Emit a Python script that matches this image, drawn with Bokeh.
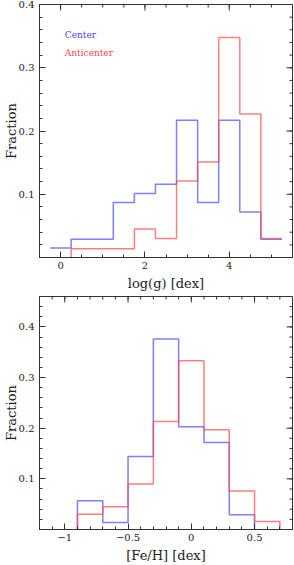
import math
from bokeh.plotting import figure
from bokeh.layouts import column
from bokeh.models import FixedTicker, Label, Range1d
from bokeh.embed import file_html
from bokeh.resources import INLINE

# ---- data: log(g) histograms (fractions) ----
logg_edges_center = [-0.25, 0.25, 0.75, 1.25, 1.75, 2.25, 2.75, 3.25, 3.75, 4.25, 4.75, 5.25]
logg_center = [0.015, 0.029, 0.029, 0.087, 0.101, 0.116, 0.217, 0.087, 0.217, 0.072, 0.029]
logg_edges_anti = [0.25, 0.75, 1.25, 1.75, 2.25, 2.75, 3.25, 3.75, 4.25, 4.75, 5.25]
logg_anti = [0.014, 0.014, 0.014, 0.045, 0.030, 0.121, 0.151, 0.348, 0.227, 0.030]

# ---- data: [Fe/H] histograms (fractions) ----
feh_edges_center = [-0.9, -0.7, -0.5, -0.3, -0.1, 0.1, 0.3, 0.5]
feh_center = [0.057, 0.014, 0.144, 0.376, 0.203, 0.172, 0.029]
feh_edges_anti = [-0.9, -0.7, -0.5, -0.3, -0.1, 0.1, 0.3, 0.5, 0.7]
feh_anti = [0.030, 0.045, 0.090, 0.213, 0.333, 0.197, 0.076, 0.016]

# ---- ticks ----
logg_ticks = [0, 2, 4]
logg_minor = [-0.5, 0, 0.5, 1, 1.5, 2, 2.5, 3, 3.5, 4, 4.5, 5, 5.5]
feh_ticks = [-1, -0.5, 0, 0.5]
feh_tick_labels = {-1: "\u22121", -0.5: "\u22120.5", 0: "0", 0.5: "0.5"}
feh_minor = [-1.2, -1.1, -1.0, -0.9, -0.8, -0.7, -0.6, -0.5, -0.4, -0.3, -0.2, -0.1,
             0.0, 0.1, 0.2, 0.3, 0.4, 0.5, 0.6, 0.7, 0.8]
frac_ticks = [0.1, 0.2, 0.3, 0.4]
frac_minor = [0.02, 0.04, 0.06, 0.08, 0.1, 0.12, 0.14, 0.16, 0.18, 0.2, 0.22, 0.24,
              0.26, 0.28, 0.3, 0.32, 0.34, 0.36, 0.38, 0.4, 0.42, 0.44, 0.46]

BLUE = "#4848ff"
RED = "#ff4848"
FONT = "DejaVu Serif"
FRAME = "#333333"
MAJ, MINR = 6, 3


def step_path(edges, vals, drop_left=True, drop_right=True):
    xs, ys = [], []
    if drop_left:
        xs.append(edges[0]); ys.append(0)
    for i, v in enumerate(vals):
        xs += [edges[i], edges[i + 1]]
        ys += [v, v]
    if drop_right:
        xs.append(edges[-1]); ys.append(0)
    return xs, ys


def tick_style(ax):
    ax.major_tick_in = MAJ
    ax.major_tick_out = 0
    ax.minor_tick_in = MINR
    ax.minor_tick_out = 0
    ax.axis_line_color = FRAME
    ax.major_tick_line_color = FRAME
    ax.minor_tick_line_color = FRAME
    ax.major_label_text_font = FONT
    ax.major_label_text_font_size = "10px"
    ax.major_label_text_color = "#222222"
    ax.axis_label_text_font = FONT
    ax.axis_label_text_font_size = "13px"
    ax.axis_label_text_font_style = "normal"
    ax.axis_label_text_color = "#222222"


def mirror_ticks(p, xr, yr, xt, xminor):
    # ticks on the top and right frame edges (inward)
    for ticks, ln in ((xt, MAJ), (xminor, MINR)):
        p.ray(x=ticks, y=[yr[1]] * len(ticks), length=ln, length_units="screen",
              angle=-math.pi / 2, line_color=FRAME, line_width=1)
    for ticks, ln in ((frac_ticks, MAJ), (frac_minor, MINR)):
        p.ray(x=[xr[1]] * len(ticks), y=ticks, length=ln, length_units="screen",
              angle=math.pi, line_color=FRAME, line_width=1)


def make_panel(height, xr, yr, xt, xminor, xlabel, top_border, xover=None):
    p = figure(width=294, height=height, x_range=Range1d(*xr), y_range=Range1d(*yr),
               output_backend="svg", toolbar_location=None,
               min_border_left=0, min_border_right=2, min_border_top=top_border,
               min_border_bottom=36)
    p.xgrid.visible = False
    p.ygrid.visible = False
    p.outline_line_color = FRAME
    p.background_fill_color = "white"
    p.border_fill_color = "white"

    p.xaxis.ticker = FixedTicker(ticks=xt, minor_ticks=xminor)
    p.yaxis.ticker = FixedTicker(ticks=frac_ticks, minor_ticks=frac_minor)
    if xover:
        p.xaxis.major_label_overrides = xover
    p.xaxis.axis_label = xlabel
    p.yaxis.axis_label = "Fraction"
    tick_style(p.xaxis[0])
    tick_style(p.yaxis[0])
    p.xaxis.major_label_standoff = 4
    p.xaxis.axis_label_standoff = 4
    p.yaxis.major_label_standoff = 5
    p.yaxis.axis_label_standoff = -3
    mirror_ticks(p, xr, yr, xt, xminor)
    return p


# ---- top panel: log(g) ----
p1 = make_panel(293, (-0.5, 5.5), (0, 0.4), logg_ticks, logg_minor, "log(g) [dex]", 4)
xs, ys = step_path(logg_edges_center, logg_center, drop_left=False, drop_right=False)
p1.line(xs, ys, line_color=BLUE, line_width=1.5, line_alpha=0.7)
xs, ys = step_path(logg_edges_anti, logg_anti, drop_left=True, drop_right=False)
p1.line(xs, ys, line_color=RED, line_width=1.5, line_alpha=0.7)
p1.add_layout(Label(x=0.1, y=0.351, text="Center", text_color=BLUE, text_font=FONT,
                    text_font_size="9px", text_baseline="middle"))
p1.add_layout(Label(x=0.1, y=0.323, text="Anticenter", text_color=RED, text_font=FONT,
                    text_font_size="9px", text_baseline="middle"))

# ---- bottom panel: [Fe/H] ----
p2 = make_panel(272, (-1.2, 0.8), (0, 0.46), feh_ticks, feh_minor, "[Fe/H] [dex]", 3,
                xover=feh_tick_labels)
xs, ys = step_path(feh_edges_center, feh_center)
p2.line(xs, ys, line_color=BLUE, line_width=1.5, line_alpha=0.7)
xs, ys = step_path(feh_edges_anti, feh_anti)
p2.line(xs, ys, line_color=RED, line_width=1.5, line_alpha=0.7)

layout = column(p1, p2, spacing=0)
open("out.html", "w").write(file_html(layout, INLINE))
